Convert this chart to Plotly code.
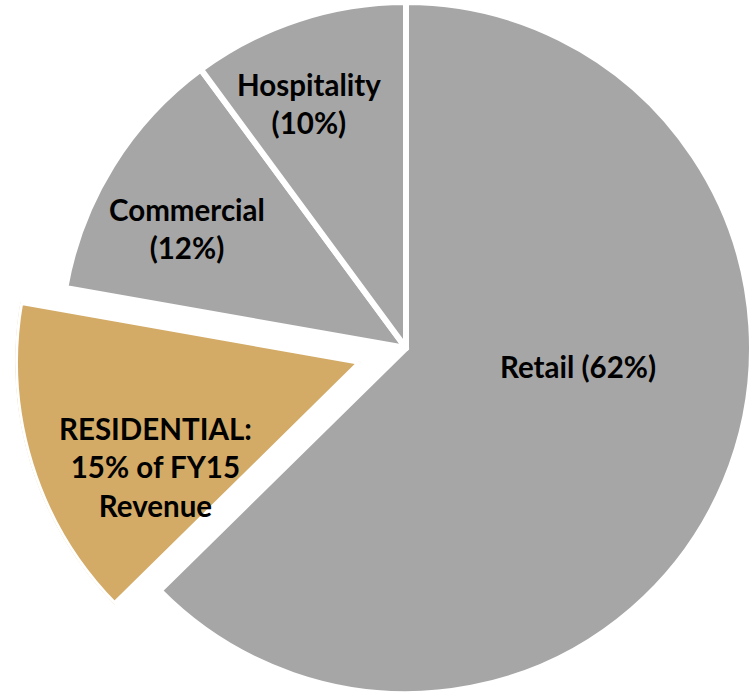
import math
import plotly.graph_objects as go

# Revenue mix by segment (share of FY15 revenue, %), clockwise from 12 o'clock
categories = ["Retail", "Residential", "Commercial", "Hospitality"]
shares = [62, 15, 12, 10]
highlight = "Residential"

GREY = "#A6A6A6"
GOLD = "#D3AB67"

# Text for each slice label
def slice_label(cat, share):
    if cat == highlight:
        return f"{cat.upper()}:<br>{share}% of FY15<br>Revenue"
    if cat == "Retail":
        return f"{cat} ({share}%)"
    return f"{cat}<br>({share}%)"

# Label anchor positions in pixels (x, y from top-left)
label_pos = {
    "Retail": (578, 366),
    "Residential": (155, 467),
    "Commercial": (187, 228),
    "Hospitality": (309, 103),
}

W, H = 752, 694
R = 346          # pie radius (px)
CX, CY = 406, 348  # pie centre (px)
STROKE = 6
PULL = 0.136     # exploded slice offset, as a fraction of the radius

hi = categories.index(highlight)
total = sum(shares)
start_deg = sum(shares[:hi]) / total * 360.0
span_deg = shares[hi] / total * 360.0
mid_deg = start_deg + span_deg / 2.0

# Main pie: every slice except the exploded one (left transparent)
pie_colors = [GREY if c != highlight else "rgba(0,0,0,0)" for c in categories]
pie_lines = [STROKE if c != highlight else 0 for c in categories]

fig = go.Figure()
fig.add_trace(go.Pie(
    labels=categories,
    values=shares,
    sort=False,
    direction="clockwise",
    rotation=0,
    textinfo="none",
    hoverinfo="label+percent",
    showlegend=False,
    marker=dict(colors=pie_colors, line=dict(color="white", width=pie_lines)),
    domain=dict(x=[(CX - R) / W, min(1.0, (CX + R) / W)],
                y=[max(0.0, 1 - (CY + R) / H), 1 - (CY - R) / H]),
))

# Exploded slice, drawn as a polar bar in its own shifted sector subplot
fig.add_trace(go.Barpolar(
    r=[1],
    theta=[mid_deg],
    width=[span_deg],
    marker=dict(color=GOLD, line=dict(color="white", width=STROKE)),
    name=highlight,
    showlegend=False,
    subplot="polar",
))


def sector_bbox(s0, s1):
    arc = s1 - s0
    a0 = s0 % 360
    a1 = a0 + arc
    ax0, ay0 = math.cos(math.radians(a0)), math.sin(math.radians(a0))
    ax1, ay1 = math.cos(math.radians(a1)), math.sin(math.radians(a1))
    if (a0 <= 90 and a1 >= 90) or (a0 > 90 and a1 >= 450):
        y1 = 1
    elif ay0 <= 0 and ay1 <= 0:
        y1 = 0
    else:
        y1 = max(ay0, ay1)
    if (a0 <= 180 and a1 >= 180) or (a0 > 180 and a1 >= 540):
        x0 = -1
    elif ax0 >= 0 and ax1 >= 0:
        x0 = 0
    else:
        x0 = min(ax0, ax1)
    if (a0 <= 270 and a1 >= 270) or (a0 > 270 and a1 >= 630):
        y0 = -1
    elif ay0 >= 0 and ay1 >= 0:
        y0 = 0
    else:
        y0 = min(ay0, ay1)
    if a1 >= 360:
        x1 = 1
    elif ax0 <= 0 and ax1 <= 0:
        x1 = 0
    else:
        x1 = max(ax0, ax1)
    return x0, y0, x1, y1


# Sector (math convention, counter-clockwise from east) covering the slice
a_lo = (90 - (start_deg + span_deg)) % 360
a_hi = a_lo + span_deg
sector = [a_lo - 10, a_hi + 10]
bx0, by0, bx1, by1 = sector_bbox(*sector)

# Centre of the exploded slice, pushed out along its bisector
off = PULL * R
pcx = CX + off * math.sin(math.radians(mid_deg))
pcy = CY - off * math.cos(math.radians(mid_deg))

x_left, x_right = pcx + R * bx0, pcx + R * bx1
y_top, y_bot = pcy - R * by1, pcy - R * by0

fig.update_layout(
    polar=dict(
        domain=dict(x=[x_left / W, x_right / W], y=[1 - y_bot / H, 1 - y_top / H]),
        sector=sector,
        bgcolor="rgba(0,0,0,0)",
        hole=0,
        radialaxis=dict(visible=False, range=[0, 1]),
        angularaxis=dict(visible=False, rotation=90, direction="clockwise"),
    )
)

for cat, share in zip(categories, shares):
    px, py = label_pos[cat]
    fig.add_annotation(
        x=px / W, y=1 - py / H, xref="paper", yref="paper",
        text=slice_label(cat, share),
        showarrow=False, xanchor="center", yanchor="middle", align="center",
        font=dict(family="Lato", size=29.5, color="#000000", weight="bold"),
    )

fig.update_layout(
    width=W, height=H,
    margin=dict(l=0, r=0, t=0, b=0),
    paper_bgcolor="white",
    plot_bgcolor="white",
)

fig.write_html("out.html")
